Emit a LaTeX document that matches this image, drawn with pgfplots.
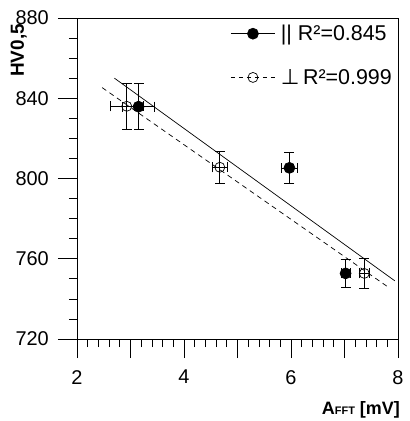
\documentclass[border=0pt]{standalone}
\usepackage{pgfplots}
\pgfplotsset{compat=1.18}
\usepackage{fontspec}
\setmainfont{Liberation Sans}
\newfontfamily\dejavu{DejaVu Sans}

\begin{document}
\begin{tikzpicture}
\begin{axis}[
  name=ax,
  scale only axis,
  width=321bp, height=321bp,
  xmin=2, xmax=8, ymin=720, ymax=880,
  axis line style={line width=0.7bp},
  xtick={2,3,4,5,6,7,8},
  xticklabels={2,,4,,6,,8},
  ytick={720,760,800,840,880},
  minor x tick num=4,
  minor y tick num=3,
  xtick pos=bottom, ytick pos=left,
  tick align=outside,
  major tick length=19bp,
  minor tick length=8bp,
  tick style={line width=0.7bp, black},
  /pgf/number format/assume math mode=true,
  /pgf/number format/1000 sep={},
  ticklabel style={font=\fontsize{20}{22}\selectfont},
  yticklabel style={inner sep=0pt, xshift=-9bp},
  xticklabel style={inner sep=0pt, yshift=-12bp},
  clip=false,
  legend style={draw=none, fill=none, at={(1,1)}, anchor=north east,
    xshift=-4bp, yshift=-5bp, font=\fontsize{21.5}{24}\selectfont,
    row sep=23bp, inner sep=0pt},
  legend cell align=left,
  legend image code/.code={
    \draw[mark repeat=2, mark phase=2, #1] plot coordinates {(0bp,0bp) (22bp,0bp) (44bp,0bp)};},
  error bars/error bar style={line width=0.7bp},
  error bars/error mark options={line width=0.7bp, mark size=5bp, rotate=90},
]
\addlegendimage{black, line width=0.7bp, mark=*, mark size=5.5bp, mark options={solid}}
\addlegendentry{\,|| R²=0.845}
\addlegendimage{black, line width=0.7bp, dash pattern=on 4bp off 4bp, mark=o, mark size=5bp, mark options={solid}}
\addlegendentry{\,{\dejavu ⊥}\,R²=0.999}

% fit lines
\addplot[black, line width=0.7bp, forget plot] coordinates {(2.70,850) (7.94,749)};
\addplot[black, line width=0.7bp, dash pattern=on 5bp off 4bp, forget plot] coordinates {(2.47,845.3) (7.82,745.8)};

% perpendicular (open)
\addplot[black, only marks, mark=o, mark size=5bp, line width=0.7bp, forget plot,
  error bars/.cd, x dir=both, x explicit, y dir=both, y explicit]
  coordinates {
    (2.93,836) +- (0.31,11.5)
    (4.67,805.6) +- (0.14,7.8)
    (7.37,752.7) +- (0.09,7.3)
  };
% parallel (filled)
\addplot[black, only marks, mark=*, mark size=5.5bp, line width=0.7bp, forget plot,
  error bars/.cd, x dir=both, x explicit, y dir=both, y explicit]
  coordinates {
    (3.15,835.8) +- (0.30,11.5)
    (5.97,805.3) +- (0.146,7.7)
    (7.02,752.7) +- (0.08,7.2)
  };
\end{axis}
\node[rotate=90, anchor=south east, inner sep=0pt, font=\fontsize{19}{20}\selectfont\bfseries]
  at ([xshift=-50bp,yshift=-6bp]ax.north west) {HV0,5};
\node[anchor=north east, inner sep=0pt, font=\fontsize{18}{20}\selectfont\bfseries]
  at ([xshift=2bp,yshift=-62bp]ax.south east) {A{\fontsize{11}{12}\selectfont FFT} [mV]};
\pgfresetboundingbox
\path[use as bounding box] ([xshift=-77bp,yshift=-82bp]ax.south west) rectangle ([xshift=12bp,yshift=18bp]ax.north east);
\end{tikzpicture}
\end{document}
